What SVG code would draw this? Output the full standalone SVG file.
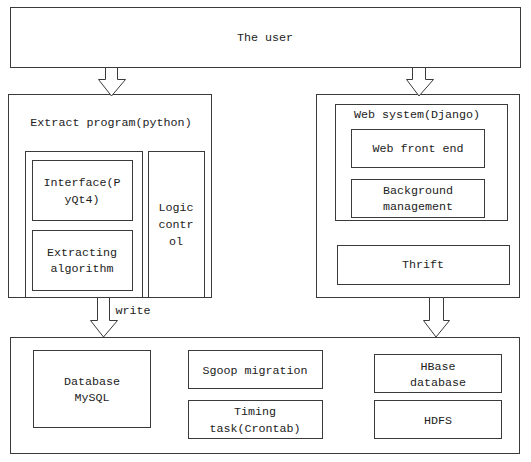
<svg xmlns="http://www.w3.org/2000/svg" width="531" height="462" viewBox="0 0 531 462">
<style>
rect{fill:#fff;stroke:#3a3a3a;stroke-width:1}
.a{fill:#fff;stroke:#3a3a3a;stroke-width:1}
text{font-family:"Liberation Mono","DejaVu Sans Mono",monospace;font-size:11.7px;fill:#222;text-anchor:middle}
</style>
<rect x="0" y="0" width="531" height="462" style="stroke:none"/>
<g id="user"><rect x="10.5" y="7.5" width="510" height="60"/><text x="265" y="41">The user</text></g>
<g id="extract">
<rect x="8.5" y="94.5" width="203" height="203"/>
<text x="111" y="126">Extract program(python)</text>
<rect x="25.5" y="151.5" width="117" height="146"/>
<rect x="148.5" y="151.5" width="56" height="146"/>
</g>
<g id="interface"><rect x="32.5" y="160.5" width="100" height="60"/><text x="82" y="186">Interface(P</text><text x="82" y="203">yQt4)</text></g>
<g id="algorithm"><rect x="32.5" y="230.5" width="100" height="60"/><text x="82" y="256">Extracting</text><text x="82" y="272">algorithm</text></g>
<g id="logic"><text x="176" y="211">Logic</text><text x="176" y="228">contr</text><text x="176" y="245">ol</text></g>
<g id="web">
<rect x="316.5" y="94.5" width="203" height="203"/>
<rect x="335.5" y="104.5" width="172" height="116"/>
<text x="417" y="118">Web system(Django)</text>
</g>
<g id="frontend"><rect x="351.5" y="129.5" width="133" height="38"/><text x="418" y="152">Web front end</text></g>
<g id="background"><rect x="351.5" y="179.5" width="133" height="38"/><text x="418" y="194">Background</text><text x="418" y="210">management</text></g>
<g id="thrift"><rect x="337.5" y="245.5" width="172" height="39"/><text x="423" y="268">Thrift</text></g>
<g id="storage"><rect x="10.5" y="337.5" width="509" height="116"/></g>
<g id="mysql"><rect x="33.5" y="350.5" width="117" height="77"/><text x="92" y="385">Database</text><text x="92" y="401">MySQL</text></g>
<g id="sgoop"><rect x="188.5" y="350.5" width="134" height="38"/><text x="255" y="374">Sgoop migration</text></g>
<g id="timing"><rect x="188.5" y="400.5" width="134" height="38"/><text x="255" y="415">Timing</text><text x="255" y="432">task(Crontab)</text></g>
<g id="hbase"><rect x="374.5" y="354.5" width="127" height="38"/><text x="438" y="370">HBase</text><text x="438" y="386">database</text></g>
<g id="hdfs"><rect x="374.5" y="400.5" width="127" height="38"/><text x="438" y="424">HDFS</text></g>
<g id="connectors">
<polygon class="a" points="105.5,67.5 117.5,67.5 117.5,79.5 125.5,79.5 111.5,96 98.5,79.5 105.5,79.5"/>
<polygon class="a" points="412.5,67.5 425.5,67.5 425.5,79.5 433.5,79.5 419,96 406.5,79.5 412.5,79.5"/>
<polygon class="a" points="97.5,297.5 109.5,297.5 109.5,320.5 117.5,320.5 103.5,337 90.5,320.5 97.5,320.5"/>
<polygon class="a" points="429.5,297.5 443.5,297.5 443.5,320.5 449.5,320.5 436,337 423.5,320.5 429.5,320.5"/>
<text x="133" y="314">write</text>
</g>
</svg>
